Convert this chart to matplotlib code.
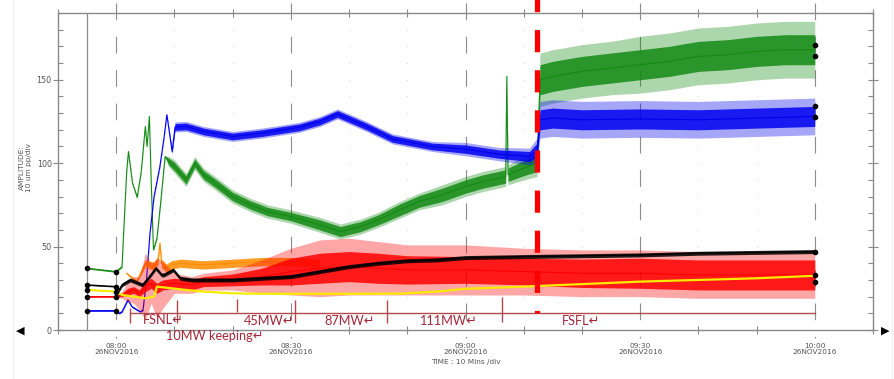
import matplotlib
matplotlib.use("Agg")
import matplotlib.pyplot as plt
from matplotlib.ticker import MultipleLocator, FixedLocator
import numpy as np

# ---------------- data (time = minutes after 08:00, 26NOV2016) ----------------
green_t = [-5, 0, 1.0, 1.3, 1.8, 2.1, 2.8, 3.6, 4.3, 5.0, 5.3, 5.7, 6.0, 6.4, 7.0, 7.6, 8.4, 9.0, 10, 12,
           13.5, 15, 17, 20, 23, 26, 30, 35, 38.5, 42, 45, 48.7, 52, 56, 60, 63, 66.9, 67.1, 67.3, 70,
           72.3, 72.8, 75, 80, 85, 90, 95, 100, 105, 110, 115, 120]
green_v = [37, 35, 38, 60, 95, 107, 88, 79.5, 95, 122, 110, 128, 90, 48, 55, 75, 104, 101, 98, 90,
           100, 93, 88, 80, 75, 71, 68, 63, 59, 62, 66, 72, 77, 81, 86, 89, 92, 152, 93, 97,
           100, 150, 152, 155, 157, 159, 161, 164, 165, 167, 168, 168]
green_hw = [0.4] * 17 + [2, 2.5, 2.5, 2.5, 2.5, 2.5, 2.5, 2.5, 2.5, 2.5, 3, 3, 3, 3, 3.5, 3.5, 4, 4, 4, 4, 0.5, 4, 4.5,
                          5, 9, 9, 9, 9, 9, 9, 9, 9, 9, 9, 9]
green_hw2 = [0.4] * 17 + [3, 4, 4, 4, 4, 4, 4, 4, 4, 4, 4.5, 4.5, 4.5, 4.5, 5, 5, 6, 6, 6, 6, 0.5, 6, 7,
                           8, 16, 16, 16, 16, 17, 17, 17, 17, 17, 17, 17]

blue_t = [-5, 0, 0.5, 1, 2, 2.7, 4.1, 4.6, 5.2, 5.8, 6.5, 7.5, 8.2, 8.7, 9.6, 10.1, 12, 15, 20, 25,
          31.5, 35, 38, 43, 47.5, 54.3, 60, 65.8, 71, 72.3, 72.8, 75, 80, 90, 100, 110, 120]
blue_v = [11.6, 11.6, 10, 11, 18, 14, 11, 12, 30, 58, 80, 98, 115, 129, 107, 121.7, 122, 119, 116, 118,
          121.5, 125, 129.5, 122, 114.5, 110, 108.4, 105.4, 104, 108, 126, 127, 126, 126.5, 126, 127, 128]
blue_hw = [0.4] * 14 + [1, 2, 2, 2, 2, 2, 2, 2, 2, 2, 2, 2, 2.5, 2.5, 3, 4, 6, 6, 6, 6, 6, 6, 6]
blue_hw2 = [0.4] * 14 + [1.5, 3, 3, 3, 3, 3, 3, 3, 3, 3, 3, 3, 4, 4, 5, 7, 11, 11, 11, 11, 11, 11, 11]

red_t = [-5, 0, 1, 2, 3, 4, 5, 6, 7, 8, 10, 13, 15, 20, 25, 30, 35, 40, 45, 50,
         60, 70, 80, 90, 100, 110, 120]
red_v = [20, 20, 21, 23, 24, 22, 26, 28, 25, 27, 28, 27, 29, 30, 32, 35, 37, 38, 37, 36,
         36, 35, 34, 34, 33, 33, 33]
red_hw = [0.4, 0.4, 1, 2, 2, 2, 3, 3, 3, 3, 3, 3, 3, 3.5, 5, 8, 9, 9, 9, 8.5, 8, 8, 8.5, 9, 9, 9, 9]
red_hw2 = [0.4, 0.4, 2, 6, 8, 10, 20, 12, 18, 14, 6, 5, 5, 6, 10, 14, 17, 17, 16, 15, 15, 14, 14, 14, 14, 14, 14]

orange_t = [1.8, 3.5, 5.0, 6.5, 7.2, 7.5, 7.8, 8.6, 9.5, 11, 15, 20, 25, 30, 35]
orange_v = [34, 29, 40, 38, 42, 52, 40, 37, 39, 40, 39, 40, 41, 41, 40]
orange_hw = [0.5, 1, 2, 2.5, 2.5, 1, 2.5, 2.5, 2.5, 2.5, 2.5, 2.5, 2.5, 2.5, 2.5]

black_t = [-5, 0, 0.5, 1, 2.4, 4.5, 5.5, 6.8, 7.8, 8.2, 9.8, 11, 13, 15, 20, 25, 30, 35, 40, 45,
           50, 55, 60, 70, 80, 90, 100, 110, 120]
black_v = [27, 26, 24, 27, 30, 27, 31, 37, 33, 33, 36, 31, 30, 30, 30, 31, 32, 35, 38, 40,
           41.5, 42, 43.4, 44, 44.5, 45, 46, 46.5, 47]

yellow_t = [-5, 0, 1, 3, 5, 6.5, 7, 9.5, 12, 15, 20, 25, 30, 40, 48.7, 55, 60, 70, 80, 90, 100, 110, 120]
yellow_v = [24, 23, 21, 20, 19, 20, 26, 25, 24, 23, 22, 21.7, 21.7, 21.7, 21.8, 23, 24.7, 26, 27.5, 29,
            30, 31, 32.5]

end_markers = [171, 164.5, 134, 127.7, 47, 33, 29]

# operating-stage annotation
stage_line = [2.4, 120]
stage_line_level = 10.4
stage_ticks_t = [2.4, 10.4, 20.7, 30.7, 46.5, 66.2]
stage_ticks_lo = [4.2, 4.2, 11.0, 4.2, 4.2, 4.8]
stage_ticks_hi = [13.2, 18, 18.5, 18, 18, 19.8]
stage_labels = ["FSNL↵", "10MW keeping↵", "45MW↵", "87MW↵", "111MW↵", "FSFL↵"]
stage_label_t = [4.6, 8.6, 21.9, 35.8, 52.1, 76.5]
stage_label_y = [3.6, -6.2, 3.0, 3.0, 3.0, 3.0]
event_t = 72.3

xtick_pos = [0, 30, 60, 90, 120]
xtick_labels = ["08:00\n26NOV2016", "08:30\n26NOV2016", "09:00\n26NOV2016",
                "09:30\n26NOV2016", "10:00\n26NOV2016"]
ytick_pos = [0, 50, 100, 150]

# ---------------- figure ----------------
W, H = 894, 379
fig = plt.figure(figsize=(W / 100, H / 100), dpi=100)
ax = fig.add_axes([58 / W, 49 / H, 815 / W, 317 / H])
ax.set_xlim(-10, 130)
ax.set_ylim(0, 190)

gcol = "#888888"
for s in ax.spines.values():
    s.set_color("#8a8a8a")
    s.set_linewidth(1.0)

# faint dotted grid points
gx = [t for t in range(-10, 131, 10) if t % 30 != 0 and t > -5]
gy = list(range(10, 190, 10))
GX, GY = np.meshgrid(gx, gy)
ax.scatter(GX.ravel(), GY.ravel(), s=0.6, color="#d4d4d4", lw=0, zorder=0.5)

# major dashed verticals (extend beyond axes)
for t in xtick_pos:
    ax.plot([t, t], [196, -5], color="#8c8c8c", lw=0.8, ls=(0, (15, 15)),
            clip_on=False, zorder=0.6)
ax.axvline(-5, color="#8c8c8c", lw=0.9, zorder=0.6)


def draw(t, v, hw, hw2, color, z, lw=0.8):
    t = np.asarray(t, float)
    v = np.asarray(v, float)
    if hw2 is not None:
        h2 = np.asarray(hw2, float)
        ax.fill_between(t, v - h2, v + h2, color=color, alpha=0.35, lw=0, zorder=z)
    if hw is not None:
        h = np.asarray(hw, float)
        ax.fill_between(t, v - h, v + h, color=color, alpha=0.85, lw=0, zorder=z + 0.01)
    ax.plot(t, v, color=color, lw=lw, zorder=z + 0.02)


draw(green_t, green_v, green_hw, green_hw2, "#138a13", 2)
draw(blue_t, blue_v, blue_hw, blue_hw2, "#0000f0", 2.1)
draw(orange_t, orange_v, orange_hw, None, "#ff8c00", 2.2)
draw(red_t, red_v, red_hw, red_hw2, "#ff0000", 2.3)
ax.plot(yellow_t, yellow_v, color="#f8ea00", lw=1.6, zorder=2.5)
draw(black_t, black_v, [0.3, 0.3] + [1.2] * (len(black_t) - 2), None, "#000000", 2.6, lw=1.0)

# start / end markers
for t_, v_ in [(green_t, green_v), (blue_t, blue_v), (red_t, red_v), (black_t, black_v), (yellow_t, yellow_v)]:
    ax.plot(t_[:2], v_[:2], "o", color="k", ms=3, zorder=3, clip_on=False)
ax.plot([120] * len(end_markers), end_markers, "o", color="k", ms=3, zorder=3, clip_on=False)

# stage annotation
acol = "#b24a4e"
tcol = "#a3283a"
ax.plot(stage_line, [stage_line_level] * 2, color=acol, lw=1.0, zorder=3)
ax.vlines(stage_ticks_t, stage_ticks_lo, stage_ticks_hi, color=acol, lw=1.0, zorder=3)
for lab, tx, ty in zip(stage_labels, stage_label_t, stage_label_y):
    ax.text(tx, ty, lab, color=tcol, fontsize=9.2, ha="left", va="baseline",
            family=["Lato", "DejaVu Sans"], clip_on=False, zorder=4)

# event line (thick red dashed)
ax.plot([event_t, event_t], [198.8, 10.2], color="#ff0000", lw=3.8,
        ls=(1.8, (4.2, 3.4)), solid_capstyle="butt", dash_capstyle="butt",
        clip_on=False, zorder=5)

# ticks
ax.xaxis.set_major_locator(FixedLocator(xtick_pos))
ax.xaxis.set_minor_locator(MultipleLocator(10))
ax.set_xticklabels(xtick_labels)
ax.yaxis.set_major_locator(FixedLocator(ytick_pos))
ax.yaxis.set_minor_locator(MultipleLocator(10))
ax.tick_params(axis="x", which="major", direction="out", length=0, pad=9,
               labelsize=5.3, labelcolor="#555555", colors="#8a8a8a")
ax.tick_params(axis="x", which="minor", direction="inout", length=6, top=True, bottom=True,
               color="#8a8a8a", width=0.8)
ax.tick_params(axis="y", which="major", direction="inout", length=7, left=True, right=True,
               labelsize=5.8, labelcolor="#555555", color="#8a8a8a", width=0.8, pad=1)
ax.tick_params(axis="y", which="minor", direction="in", length=3.5, left=True, right=True,
               color="#8a8a8a", width=0.8)
for lab in ax.get_xticklabels():
    lab.set_linespacing(1.1)

ax.set_xlabel("TIME : 10 Mins /div", fontsize=5.3, color="#555555", labelpad=3)
fig.text(25 / W, 1 - 168 / H, "AMPLITUDE:\n10 um pp/div", rotation=90, fontsize=5.3,
         color="#555555", ha="center", va="center", linespacing=1.2)

# navigation arrows and faint frame edges
fig.text(20 / W, 1 - 331 / H, "◀", fontsize=8, ha="center", va="center", color="k")
fig.text(885 / W, 1 - 331 / H, "▶", fontsize=8, ha="center", va="center", color="k")
fig.add_artist(plt.Line2D([13 / W, 13 / W], [0, 1], color="#eeeeee", lw=0.8))
fig.add_artist(plt.Line2D([892 / W, 892 / W], [0, 1], color="#eeeeee", lw=0.8))

fig.savefig("out.png", dpi=100)
